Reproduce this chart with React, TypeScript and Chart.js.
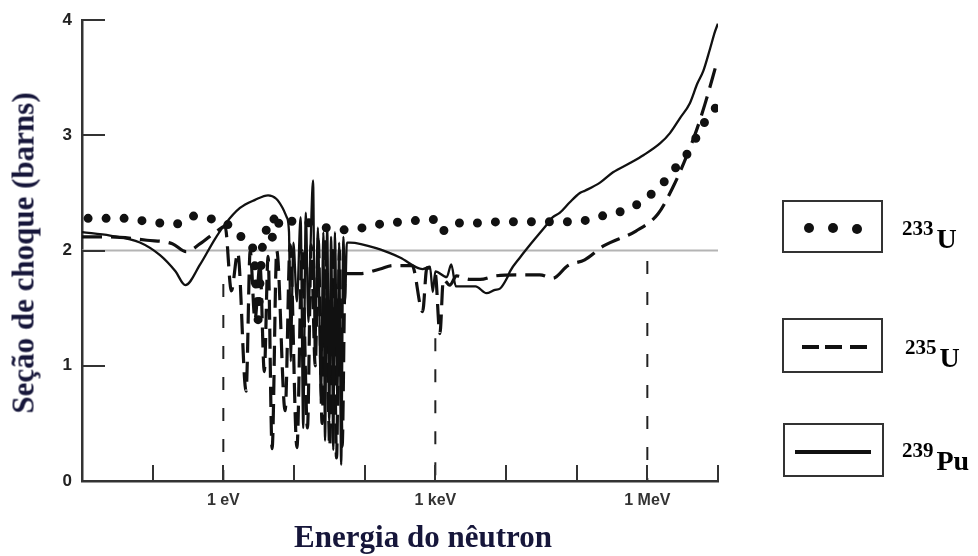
import { useEffect, useRef } from 'react';
import { Chart, registerables } from 'chart.js';

Chart.register(...registerables);

// Neutron energy (eV) and fission cross-section (barns) for each nuclide
const u233Energy = [0.0122, 0.0225, 0.039, 0.07, 0.123, 0.213, 0.35, 0.6, 1.09, 1.6, 2.5, 2.8, 2.95, 3.1, 3.3, 3.6, 4.2, 4.8, 5.4, 6.5, 8, 10.5, 23, 56, 165, 340, 1030, 1250, 1680, 2100, 4000, 8200, 30000, 56000, 103000, 184000, 330000, 568000, 960000, 1420000, 2030000, 2810000, 3870000, 5000000, 6400000, 8500000, 10000000];
const u233Sigma = [2.28, 2.28, 2.28, 2.26, 2.24, 2.23, 2.3, 2.28, 2.24, 2.13, 2.06, 1.85, 1.6, 1.4, 1.72, 2.05, 2.18, 2.08, 2.33, 2.2, 2.22, 2.27, 2.21, 2.18, 2.23, 2.25, 2.27, 2.17, 2.23, 2.24, 2.24, 2.25, 2.25, 2.25, 2.25, 2.29, 2.32, 2.37, 2.45, 2.55, 2.64, 2.76, 2.86, 2.99, 3.11, 3.22, 3.25];

const u235Energy = [0.01, 0.025, 0.083, 0.19, 0.3, 0.47, 0.81, 1.06, 1.3, 1.6, 2.1, 2.4, 2.8, 3.3, 3.8, 4.3, 4.9, 5.7, 7.5, 8.8, 11, 13, 15.5, 17.5, 20, 22, 25, 28, 32, 36, 40, 44, 48, 53, 86, 165, 250, 470, 660, 760, 1000, 1160, 1300, 1600, 2000, 3100, 4300, 7000, 16000, 30000, 46000, 75000, 130000, 240000, 690000, 1420000, 2300000, 3600000, 5000000, 6600000, 9500000];
const u235Sigma = [2.12, 2.12, 2.09, 2.06, 1.99, 2.06, 2.17, 2.21, 1.65, 1.98, 0.78, 2.0, 1.4, 1.88, 0.95, 1.95, 0.28, 2.0, 0.61, 2.05, 0.29, 2.0, 0.46, 2.05, 1.0, 2.1, 0.5, 2.1, 0.3, 2.05, 0.2, 2.0, 0.3, 1.8, 1.8, 1.84, 1.87, 1.87, 1.47, 1.85, 1.8, 1.28, 1.75, 1.7, 1.78, 1.75, 1.75, 1.78, 1.79, 1.79, 1.76, 1.87, 1.92, 2.04, 2.17, 2.32, 2.55, 2.82, 3.05, 3.28, 3.62];

const pu239Energy = [0.01, 0.025, 0.066, 0.127, 0.21, 0.29, 0.47, 0.76, 1.06, 1.72, 2.81, 4.3, 5.6, 6.9, 7.9, 8.5, 9.0, 9.8, 11, 12.4, 13.5, 14.7, 16, 17.2, 18.6, 19.8, 21.8, 24.1, 26, 27.5, 29.5, 31.5, 33.5, 36, 38, 41, 43.5, 46.5, 50, 52.7, 56, 62, 165, 316, 660, 840, 920, 1000, 1450, 1680, 1950, 2500, 3700, 5300, 7000, 8200, 10500, 11400, 15800, 21900, 35000, 46000, 58000, 80000, 111000, 131000, 214000, 327000, 568000, 890000, 1510000, 2090000, 2900000, 4000000, 5100000, 6200000, 7700000, 9060000, 9980000];
const pu239Sigma = [2.16, 2.13, 2.07, 1.96, 1.82, 1.7, 1.88, 2.1, 2.23, 2.37, 2.44, 2.48, 2.45, 2.37, 2.29, 2.16, 1.04, 2.07, 1.56, 2.29, 0.46, 2.33, 1.38, 2.07, 2.61, 1.07, 2.2, 0.7, 2.16, 0.35, 2.2, 0.52, 2.12, 0.27, 2.16, 0.7, 2.07, 0.14, 2.12, 1.56, 2.07, 2.07, 2.01, 1.94, 1.84, 1.86, 1.64, 1.82, 1.77, 1.88, 1.69, 1.69, 1.69, 1.63, 1.66, 1.67, 1.77, 1.82, 1.94, 2.05, 2.2, 2.29, 2.33, 2.42, 2.5, 2.52, 2.59, 2.68, 2.76, 2.83, 2.93, 3.02, 3.15, 3.28, 3.45, 3.56, 3.75, 3.9, 3.97];

// Horizontal reference level (barns) and vertical markers at 1 eV, 1 keV, 1 MeV
const referenceSigma = 2;
const markerEnergy = [1, 1e3, 1e6];
const markerTop = [1.71, 1.24, 1.91];

// Axis ticks
const energyMin = 0.01;
const energyMax = 1e7;
const decadeTicks = [0.1, 1, 10, 100, 1e3, 1e4, 1e5, 1e6, 1e7];
const labeledEnergy = [1, 1e3, 1e6];
const labeledText = ['1 eV', '1 keV', '1 MeV'];
const sigmaTicks = [0, 1, 2, 3, 4];

// Legend entries
const legendMass = ['233', '235', '239'];
const legendSymbol = ['U', 'U', 'Pu'];
const legendStyle = ['dots', 'dash', 'solid'];

const INK = '#111';
const AXIS = '#333';
const SERIF = '"Liberation Serif", "Times New Roman", serif';
const SANS = '"Liberation Sans", Arial, sans-serif';

const pts = (xs: number[], ys: number[]) => xs.map((x, i) => ({ x, y: ys[i] }));

const innerTicks = {
  id: 'innerTicks',
  afterDatasetsDraw(chart: any) {
    const { ctx, chartArea, scales } = chart;
    ctx.save();
    ctx.strokeStyle = AXIS;
    ctx.lineWidth = 2;
    ctx.beginPath();
    for (const v of decadeTicks) {
      const px = Math.round(scales.x.getPixelForValue(v));
      ctx.moveTo(px, chartArea.bottom);
      ctx.lineTo(px, chartArea.bottom - 16);
    }
    for (const v of sigmaTicks.slice(1)) {
      const py = Math.round(scales.y.getPixelForValue(v));
      ctx.moveTo(chartArea.left, py);
      ctx.lineTo(chartArea.left + 23, py);
    }
    ctx.stroke();
    ctx.restore();
  },
};

const LEGEND_BOXES = [
  { left: 782, top: 200, height: 53, labelLeft: 902, baseline: 248 },
  { left: 782, top: 318, height: 55, labelLeft: 905, baseline: 367 },
  { left: 783, top: 423, height: 54, labelLeft: 902, baseline: 470 },
];

function Swatch({ kind }: { kind: string }) {
  if (kind === 'dots') {
    return (
      <>
        {[25, 49, 73].map((cx, i) => (
          <div key={i} style={{ position: 'absolute', left: cx - 5, top: 21 + (i === 2 ? 1 : 0), width: 10, height: 10, borderRadius: '50%', background: INK }} />
        ))}
      </>
    );
  }
  if (kind === 'dash') {
    return (
      <>
        {[18, 41, 66].map((x, i) => (
          <div key={i} style={{ position: 'absolute', left: x, top: 25, width: 17, height: 3.5, background: INK }} />
        ))}
      </>
    );
  }
  return <div style={{ position: 'absolute', left: 10, top: 25, width: 76, height: 3.5, background: INK }} />;
}

export default function App() {
  const ref = useRef<HTMLCanvasElement>(null);

  useEffect(() => {
    const canvas = ref.current;
    if (!canvas) return;

    const markerSets = markerEnergy.map((e, i) => ({
      data: [{ x: e, y: markerTop[i] }, { x: e, y: 0 }],
      borderColor: '#222',
      borderWidth: 2,
      borderDash: [13, 18],
      pointRadius: 0,
      tension: 0,
    }));

    const chart = new Chart(canvas, {
      type: 'line',
      data: {
        datasets: [
          {
            label: '239Pu',
            data: pts(pu239Energy, pu239Sigma),
            borderColor: INK,
            borderWidth: 2.3,
            pointRadius: 0,
            cubicInterpolationMode: 'monotone',
            borderJoinStyle: 'round',
          },
          {
            label: '235U',
            data: pts(u235Energy, u235Sigma),
            borderColor: INK,
            borderWidth: 3.2,
            borderDash: [20, 9],
            pointRadius: 0,
            cubicInterpolationMode: 'monotone',
          },
          {
            label: '233U',
            data: pts(u233Energy, u233Sigma),
            borderColor: INK,
            borderWidth: 9,
            borderDash: [0, 18],
            borderCapStyle: 'round',
            pointRadius: 0,
            cubicInterpolationMode: 'monotone',
          },
          ...markerSets,
          {
            label: 'ref',
            data: [{ x: energyMin, y: referenceSigma }, { x: energyMax, y: referenceSigma }],
            borderColor: '#b4b4b4',
            borderWidth: 2,
            pointRadius: 0,
            tension: 0,
          },
        ] as any,
      },
      options: {
        animation: false,
        responsive: false,
        devicePixelRatio: 1,
        events: [],
        layout: { padding: { top: 14, right: 260, left: 0, bottom: 0 } },
        plugins: { legend: { display: false }, tooltip: { enabled: false } },
        scales: {
          x: {
            type: 'logarithmic',
            min: energyMin,
            max: energyMax,
            afterBuildTicks: (s: any) => {
              s.ticks = decadeTicks.map((v) => ({ value: v }));
            },
            afterFit: (s: any) => {
              s.height = 75;
            },
            grid: { display: false, drawTicks: false },
            border: { display: true, color: AXIS, width: 2.5 },
            ticks: {
              autoSkip: false,
              maxRotation: 0,
              padding: 10,
              color: '#333',
              font: { family: SANS, weight: 'bold', size: 16 },
              callback: (v: any) => {
                const i = labeledEnergy.findIndex((e) => Math.abs(Math.log10(e) - Math.log10(Number(v))) < 1e-6);
                return i >= 0 ? labeledText[i] : '';
              },
            },
          },
          y: {
            type: 'linear',
            min: 0,
            max: 4,
            afterBuildTicks: (s: any) => {
              s.ticks = sigmaTicks.map((v) => ({ value: v }));
            },
            afterFit: (s: any) => {
              s.width = 82;
            },
            grid: { display: false, drawTicks: false },
            border: { display: true, color: AXIS, width: 2.5 },
            ticks: {
              padding: 10,
              color: '#222',
              font: { family: SANS, weight: 'bold', size: 17 },
              callback: (v: any) => String(v),
            },
          },
        },
      } as any,
      plugins: [innerTicks],
    });

    return () => chart.destroy();
  }, []);

  const titleColor = '#16163a';

  return (
    <div style={{ position: 'fixed', left: 0, top: 0, width: 978, height: 556, background: '#fff', overflow: 'hidden' }}>
      <canvas ref={ref} width={978} height={556} style={{ position: 'absolute', left: 0, top: 0 }} />
      <div
        style={{
          position: 'absolute',
          left: 23,
          top: 253,
          transform: 'translate(-50%, -50%) rotate(-90deg)',
          font: `bold 31px ${SERIF}`,
          lineHeight: '31px',
          whiteSpace: 'nowrap',
          color: titleColor,
        }}
      >
        Seção de choque (barns)
      </div>
      <div
        style={{
          position: 'absolute',
          left: 423,
          top: 521,
          transform: 'translateX(-50%)',
          font: `bold 31px ${SERIF}`,
          lineHeight: '31px',
          whiteSpace: 'nowrap',
          color: titleColor,
        }}
      >
        Energia do nêutron
      </div>
      {LEGEND_BOXES.map((b, i) => (
        <div key={i}>
          <div
            style={{
              position: 'absolute',
              left: b.left,
              top: b.top,
              width: 101,
              height: b.height,
              boxSizing: 'border-box',
              border: `2px solid ${AXIS}`,
            }}
          >
            <Swatch kind={legendStyle[i]} />
          </div>
          <div
            style={{
              position: 'absolute',
              left: b.labelLeft,
              top: b.baseline - 23.5,
              font: `bold 28px ${SERIF}`,
              lineHeight: '28px',
              whiteSpace: 'nowrap',
              color: '#000',
            }}
          >
            <span style={{ fontSize: 21, position: 'relative', top: -13, marginRight: 3 }}>{legendMass[i]}</span>
            {legendSymbol[i]}
          </div>
        </div>
      ))}
    </div>
  );
}
